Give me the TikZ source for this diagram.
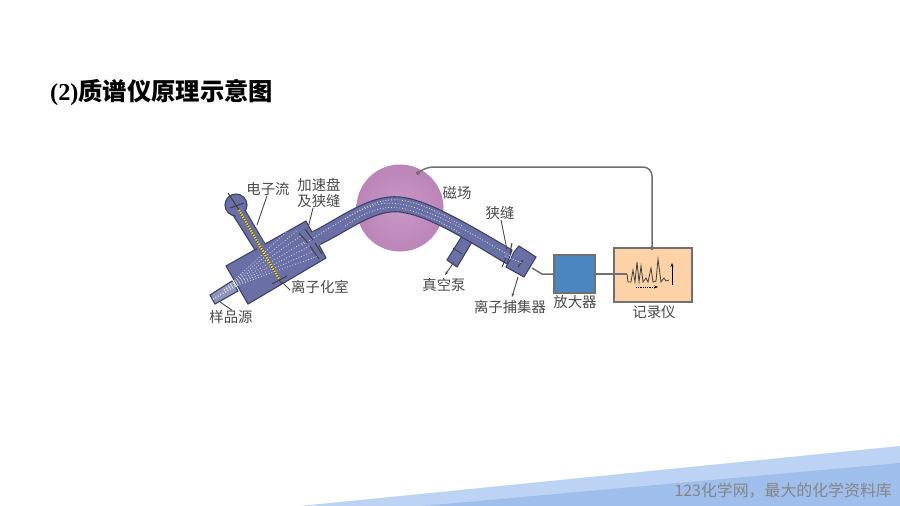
\documentclass[tikz,border=0pt]{standalone}
\usepackage{fontspec}
\setmainfont{Liberation Serif}
\newfontfamily\cjk{Noto Sans CJK SC}
\usetikzlibrary{arrows.meta}
\definecolor{tubefill}{HTML}{6A70A6}
\definecolor{tubeline}{HTML}{3D4268}
\definecolor{wiregray}{HTML}{707070}
\definecolor{labelgray}{HTML}{4A4A4A}
\definecolor{bandlight}{HTML}{BDD3F3}
\definecolor{banddark}{HTML}{9FBEEC}
\definecolor{magnetin}{HTML}{C898C6}
\definecolor{magnetout}{HTML}{BC84B8}
\definecolor{ampblue}{HTML}{4A86C0}
\definecolor{recorderfill}{HTML}{FDD2A6}
\tikzset{
    tag/.style={font=\cjk\fontsize{14.4}{16}\selectfont, text=labelgray, inner sep=0pt},
    leader/.style={draw=labelgray, line width=0.9pt},
    wire/.style={draw=wiregray, line width=1.5pt},
    part/.style={draw=tubeline, line width=1.1pt, fill=tubefill},
    plate/.style={draw=black!75, line width=1pt},
    ray/.style={draw=white!80!tubefill, line width=0.8pt, dotted},
}
\begin{document}
\begin{tikzpicture}[x=1pt,y=-1pt]

    \useasboundingbox (0,0) rectangle (900,506);

    % bands
    \fill[white] (0,0) rectangle (900,506);
    \fill[bandlight] (300,506) -- (900,446) -- (900,506) -- cycle;
    \fill[banddark] (422,506) -- (900,463) -- (900,506) -- cycle;
    \node[anchor=east, inner sep=0pt, text=black!48, font=\cjk\fontsize{15.9}{17}\selectfont] (site) at (892,491) {123化学网，最大的化学资料库};

    % title
    \node[anchor=west, inner sep=0pt, font=\fontsize{24.3}{26}\selectfont\bfseries] (title) at (50,93) {(2){\cjk 质谱仪原理示意图}};

    % magnet
    \shade[inner color=magnetin, outer color=magnetout] (400,208) circle (43.5);

    % ion chamber
    \draw[part] (226,266) -- (248,304) -- (326,258) -- (306,221) -- cycle;

    % source tube
    \draw[part, fill=tubefill!75!white] (210,295) -- (215,304) -- (238,291) -- (232,281) -- cycle;

    % electron gun
    \draw[part] (233,215) -- (255,250) -- (265,244) -- (245,210);
    \fill[tubefill] (237,214) -- (258,250) -- (266,246) -- (243,210) -- cycle;
    \draw[part] (236,205) circle (11);
    \fill[tubefill] (234,213) -- (243,209) -- (248,216) -- (238,220) -- cycle;
    \draw[plate] (228,193) -- (239,210);
    \draw[plate] (230,208) -- (244,203);

    % vacuum port
    \draw[part] (462,236) -- (447,260) -- (457,267) -- (472,242);
    \draw[plate, line width=0.7pt] (453,248) -- (462,254);

    % main tube
    \draw[part] (312,232) .. controls (340,218) and (370,194) .. (400,197) .. controls (425,199) and (465,222) .. (512,250) -- (507,264) .. controls (465,239) and (430,216) .. (400,212) .. controls (375,209) and (350,230) .. (319,245) -- cycle;
    \fill[tubefill] (309,234) -- (314,231) -- (321,244) -- (316,247) -- cycle;
    \draw[ray] (302,245) .. controls (350,216) and (370,199) .. (400,204) .. controls (430,209) and (470,232) .. (522,263);
    \draw[ray] (345,219) .. controls (362,208) and (380,198) .. (400,200) .. controls (420,203) and (440,212) .. (462,226);
    \draw[ray] (345,226) .. controls (362,214) and (380,205) .. (400,208) .. controls (420,212) and (440,221) .. (460,233);

    % collector
    \draw[part] (519,246) -- (536,257) -- (524,277) -- (506,267) -- (510,260) -- (514,252) -- cycle;
    \draw[plate] (518,267) -- (523,260);
    \draw[ray] (505,256) -- (522,263);
    \draw[plate] (512,243) -- (510,253);
    \draw[plate] (506,258) -- (502,267);

    % ions
    \foreach \dx/\dy in {-12/-16,-8/-11,-4/-6,0/0,4/5,8/10,12/15}
        \draw[ray] (224,290) -- (306+\dx,241+\dy);
    \draw[ray, line width=1.6pt] (213,299) -- (238,285);

    % electron beam
    \draw[draw=tubeline, line width=2.2pt] (239,210) -- (279,279);
    \draw[draw=yellow!85!orange, line width=2.2pt, dash pattern=on 1.4pt off 1.2pt] (239,210) -- (279,279);

    % plates
    \draw[plate] (272,284) -- (287,276);
    \draw[plate] (279,280) -- (282,284);
    \draw[plate] (299,233) -- (308,243);
    \draw[plate] (305,229) -- (313,240);
    \draw[plate] (310,246) -- (319,259);
    \draw[plate] (315,243) -- (322,254);

    % boxes
    \node[draw=wiregray, line width=1.5pt, fill=recorderfill, minimum width=78pt, minimum height=54pt, inner sep=0pt] (recorder) at (653,275) {};
    \node[draw=wiregray, line width=1.5pt, fill=ampblue, minimum width=41pt, minimum height=38pt, inner sep=0pt] (amp) at (574.5,274) {};

    % wires
    \coordinate (collectorout) at (532,268);
    \coordinate (magnettap) at (418,173);
    \coordinate (recordertap) at (652,248);
    \coordinate (chartin) at (627,274);
    \draw[wire] (collectorout) -- (542,274) -- (amp.west);
    \draw[wire] (amp.east) -- (chartin);
    \draw[wire, rounded corners=9pt] (recordertap) -- (652,167) -- (424,167) -- (magnettap);
    \fill[wiregray] (magnettap) circle (2);
    \fill[wiregray] (recordertap) circle (2);

    % chart
    \draw[draw=black!75, line width=0.8pt] (chartin) -- (628,282) -- (631,282) -- (633,270) -- (635,282) -- (637,262) -- (639,282) -- (641,266) -- (643,282) -- (646,278) -- (648,282) -- (651,268) -- (653,282) -- (656,281) -- (658,259) -- (661,282) -- (664,278) -- (666,281) -- (669,280);
    \draw[-{Stealth[length=4pt]}, line width=0.8pt, densely dotted] (636,287) -- (658,287);
    \draw[-{Stealth[length=4pt]}, line width=0.9pt] (672,285) -- (672,263);

    % texts
    \node[tag] (electron) at (268,189) {电子流};
    \node[tag, align=center] (accel) at (319,193) {加速盘\\及狭缝};
    \node[tag] (field) at (457,193) {磁场};
    \node[tag] (slit) at (500,213) {狭缝};
    \node[tag] (vacuum) at (444,285) {真空泵};
    \node[tag] (trap) at (510,307) {离子捕集器};
    \node[tag] (amplabel) at (575,302) {放大器};
    \node[tag] (reclabel) at (654,312) {记录仪};
    \node[tag] (chamber) at (320,287) {离子化室};
    \node[tag] (sample) at (231,317) {样品源};

    % leaders
    \coordinate (beamtip) at (257,225);
    \coordinate (platetip) at (308,228);
    \coordinate (chambertip) at (282,282);
    \coordinate (sampletip) at (220,302);
    \coordinate (slittip) at (507,250);
    \coordinate (porttip) at (445,275);
    \coordinate (portend) at (454,262);
    \coordinate (traptip) at (512,297);
    \coordinate (trapend) at (518,277);
    \draw[leader] (electron.south) ++(-1,0) -- (beamtip);
    \draw[leader] (accel.south) ++(-6,0) -- (platetip);
    \draw[leader] (chamber.west) ++(-1,3) -- (chambertip);
    \draw[leader] (sample.north) ++(1,0) -- (sampletip);
    \draw[leader] (slit.south) ++(1,0) -- (slittip);
    \draw[leader, -{Stealth[length=4pt]}] (portend) -- (porttip);
    \draw[leader, -{Stealth[length=4pt]}] (trapend) -- (traptip);

\end{tikzpicture}
\end{document}
